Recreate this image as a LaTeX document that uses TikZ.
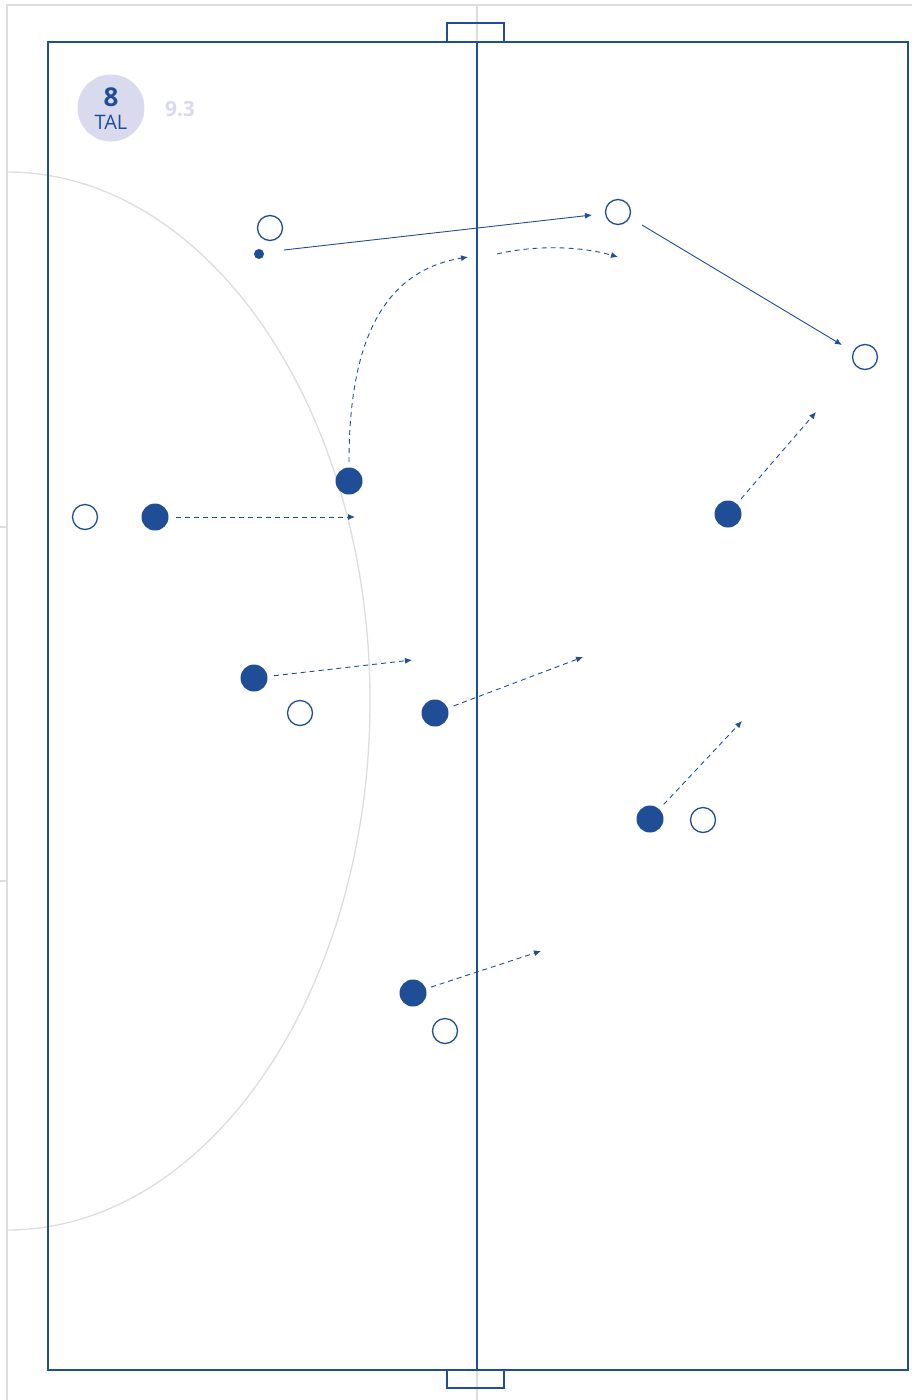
\documentclass[tikz,border=0pt]{standalone}
\usepackage{fontspec}
\setmainfont{Open Sans}
\usetikzlibrary{arrows.meta,calc}
\definecolor{navy}{HTML}{1F4E96}
\definecolor{lgray}{HTML}{DDDDDD}
\definecolor{lav}{HTML}{DADAEE}
\tikzset{
  court/.style={draw=navy,line width=1.8pt},
  guide/.style={draw=lgray,line width=1.5pt},
  opp/.style={circle,draw=navy,fill=white,line width=1.3pt,minimum size=25pt,inner sep=0pt},
  own/.style={circle,fill=navy,minimum size=27pt,inner sep=0pt},
  ballp/.style={circle,fill=navy,minimum size=10pt,inner sep=0pt},
  pass/.style={draw=navy,line width=0.9pt,-{Latex[length=7pt,width=6pt]}},
  run/.style={draw=navy,line width=0.9pt,dash pattern=on 5pt off 4pt,-{Latex[length=7pt,width=6pt]}},
}
\begin{document}
\begin{tikzpicture}[x=1pt,y=-1pt]
\useasboundingbox (0,0) rectangle (912,1400);
% guide lines
\draw[guide] (7,1400) -- (7,5) -- (912,5);
\draw[guide] (477,5) -- (477,1400);
\draw[guide] (0,527) -- (7,527);
\draw[guide] (0,881) -- (7,881);
\draw[guide,line width=1.3pt] (7,172) arc[start angle=-90,end angle=90,x radius=363,y radius=529];
% court
\draw[court] (48,42) rectangle (908,1370);
\draw[court] (477,42) -- (477,1370);
\draw[court] (447,42) -- (447,23) -- (504,23) -- (504,42);
\draw[court] (447,1370) -- (447,1388) -- (504,1388) -- (504,1370);
% badge
\node[circle,fill=lav,minimum size=67pt,inner sep=0pt] (badge) at (111,108) {};
\node[text=navy,font=\bfseries\fontsize{26}{26}\selectfont] (num) at (111,97) {8};
\node[text=navy,font=\fontsize{20}{20}\selectfont] (tal) at (111,122) {TAL};
\node[text=lav,font=\bfseries\fontsize{21}{21}\selectfont] (ver) at (180,109) {9.3};
% opponents
\node[opp] (o1) at (270,228) {};
\node[opp] (o2) at (618,212) {};
\node[opp] (o3) at (865,357) {};
\node[opp] (o4) at (85,517) {};
\node[opp] (o5) at (300,713) {};
\node[opp] (o6) at (703,820) {};
\node[opp] (o7) at (445,1031) {};
% own players
\node[own] (p1) at (349,481) {};
\node[own] (p2) at (155,517) {};
\node[own] (p3) at (728,514) {};
\node[own] (p4) at (254,678) {};
\node[own] (p5) at (435,713) {};
\node[own] (p6) at (650,819) {};
\node[own] (p7) at (413,993) {};
\node[ballp] (ball) at (259,254) {};
% arrow end points
\coordinate (a1s) at (284,250); \coordinate (a1e) at (592,215);
\coordinate (a2s) at (642,225); \coordinate (a2e) at (842,345);
\coordinate (c1s) at (349,462); \coordinate (c1e) at (468,257);
\coordinate (c2s) at (497,254); \coordinate (c2e) at (618,257);
\coordinate (r2s) at (176,517); \coordinate (r2e) at (355,517);
\coordinate (r3e) at (816,412);
\coordinate (r4e) at (412,660);
\coordinate (r5e) at (583,657);
\coordinate (r6e) at (742,721);
\coordinate (r7e) at (541,951);
% passes
\draw[pass] (a1s) -- (a1e);
\draw[pass] (a2s) -- (a2e);
% runs
\draw[run] (c1s) .. controls (349,330) and (390,270) .. (c1e);
\draw[run] (c2s) .. controls (535,245) and (580,246) .. (c2e);
\draw[run] (r2s) -- (r2e);
\draw[run] ($(p3)!20pt!(r3e)$) -- (r3e);
\draw[run] ($(p4)!20pt!(r4e)$) -- (r4e);
\draw[run] ($(p5)!20pt!(r5e)$) -- (r5e);
\draw[run] ($(p6)!20pt!(r6e)$) -- (r6e);
\draw[run] ($(p7)!19pt!(r7e)$) -- (r7e);
\end{tikzpicture}
\end{document}
